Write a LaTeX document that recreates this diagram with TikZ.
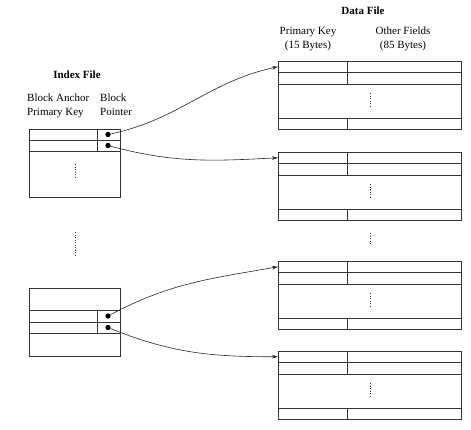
\documentclass[tikz,border=0pt]{standalone}
\usepackage{fontspec}
\setmainfont{Liberation Serif}
\usetikzlibrary{arrows.meta}
\begin{document}
\begin{tikzpicture}[x=1pt,y=-1pt,
  boxline/.style={draw=black!80,line width=0.6pt},
  vdot/.style={draw=black!80,line width=1pt,dash pattern=on 1pt off 1.5pt},
  bullet/.style={circle,fill=black,inner sep=0pt,minimum size=5.4pt},
  ptr/.style={draw=black!85,line width=0.6pt,-{Stealth[length=6pt,width=3.6pt]}},
  lbl/.style={font=\fontsize{11}{14}\selectfont,inner sep=0pt},
  ttl/.style={font=\fontsize{11}{14}\selectfont\bfseries,inner sep=0pt}]
\useasboundingbox (0,0) rectangle (471,429);

% titles and headers
\node[ttl] (dtitle) at (363,11) {Data File};
\node[ttl] (ititle) at (77,75) {Index File};
\node[lbl,align=left,anchor=north west] (hanchor) at (27,94) {Block Anchor\\Primary Key};
\node[lbl,align=left,anchor=north west] (hptr) at (100,94) {Block\\Pointer};
\node[lbl,align=center,anchor=north] (hpk) at (308,27) {Primary Key\\(15 Bytes)};
\node[lbl,align=center,anchor=north] (hof) at (403,27) {Other Fields\\(85 Bytes)};

% index file blocks
\draw[boxline] (29,129) rectangle (120,197);
\draw[boxline] (29,140) -- (120,140);
\draw[boxline] (29,151) -- (120,151);
\draw[boxline] (97,129) -- (97,151);
\draw[vdot] (75,164) -- (75,179);
\node[bullet] (p1) at (108,134.5) {};
\node[bullet] (p2) at (108,145.5) {};

\draw[vdot] (75,232) -- (75,256);

\draw[boxline] (29,288) rectangle (120,356);
\draw[boxline] (29,310) -- (120,310);
\draw[boxline] (29,322) -- (120,322);
\draw[boxline] (29,333) -- (120,333);
\draw[boxline] (97,310) -- (97,333);
\node[bullet] (p3) at (108,316) {};
\node[bullet] (p4) at (108,327.5) {};

% data file blocks
\foreach \t/\n in {61/d1,152/d2,261/d3,351/d4}{
  \draw[boxline] (278,\t) rectangle (461,\t+68);
  \draw[boxline] (278,\t+11.5) -- (461,\t+11.5);
  \draw[boxline] (278,\t+23) -- (461,\t+23);
  \draw[boxline] (278,\t+57) -- (461,\t+57);
  \draw[boxline] (347,\t) -- (347,\t+23);
  \draw[boxline] (347,\t+57) -- (347,\t+68);
  \draw[vdot] (370,\t+32) -- (370,\t+47);
  \coordinate (\n) at (278,\t+5.75);
}
\draw[vdot] (370,233) -- (370,245);

% pointers
\draw[ptr] (p1) to[out=12,in=192] (d1);
\draw[ptr] (p2) to[out=-15,in=183] (d2);
\draw[ptr] (p3) to[out=28,in=190] (d3);
\draw[ptr] (p4) to[out=-22,in=180] (d4);
\end{tikzpicture}
\end{document}
